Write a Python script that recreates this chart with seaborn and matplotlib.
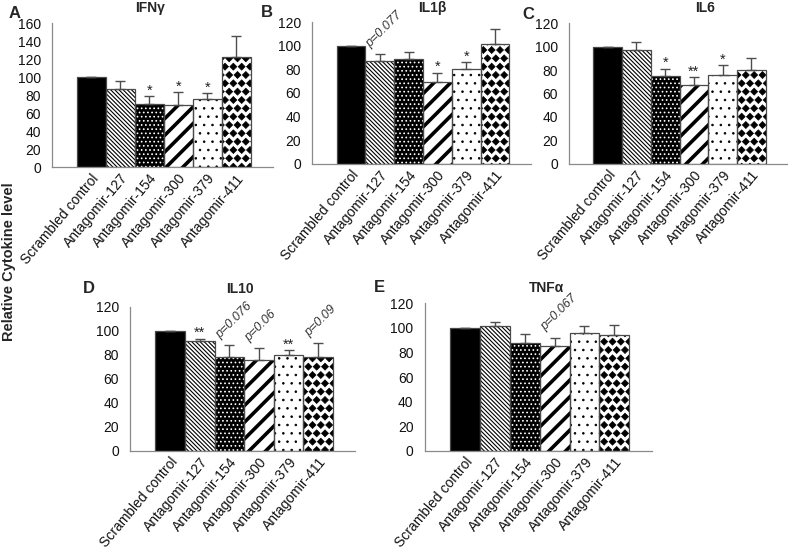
import numpy as np
import pandas as pd
import matplotlib
matplotlib.use("Agg")
import matplotlib.pyplot as plt
import seaborn as sns
from matplotlib import hatch as mhatch
from matplotlib.path import Path
from matplotlib.patches import Rectangle

# ---------------- data ----------------
categories = ["Scrambled control", "Antagomir-127", "Antagomir-154",
              "Antagomir-300", "Antagomir-379", "Antagomir-411"]

ifng_mean = [100, 87, 70, 69, 76, 122]
ifng_err = [0, 9, 9, 14, 6, 24]
ifng_marks = ["", "", "*", "*", "*", ""]

il1b_mean = [100, 87, 89, 69, 80, 101]
il1b_err = [0, 6, 6, 8, 6, 13]
il1b_marks = ["", "p=0.077", "", "*", "*", ""]

il6_mean = [100, 97, 75, 67, 76, 80]
il6_err = [0, 7, 6, 7, 8, 10]
il6_marks = ["", "", "*", "**", "*", ""]

il10_mean = [100, 92, 78, 76, 80, 78]
il10_err = [0, 1.5, 10, 10, 4, 12]
il10_marks = ["", "**", "p=0.076", "p=0.06", "**", "p=0.09"]

tnfa_mean = [100, 101, 88, 85, 96, 94]
tnfa_err = [0, 4, 7, 7, 5, 8]
tnfa_marks = ["", "", "", "p=0.067", "", ""]

panel_titles = ["IFNγ", "IL1β", "IL6", "IL10", "TNFα"]
panel_letters = ["A", "B", "C", "D", "E"]
y_max = [160, 120, 120, 120, 120]
y_label = "Relative Cytokine level"


# ---------------- custom diamond hatch (replaces 'O') ----------------
class Diamonds(mhatch.Shapes):
    filled = True
    size = 0.42

    def __init__(self, hatch, density):
        self.num_rows = hatch.count("O") * density
        path = Path.unit_regular_polygon(4)
        self.shape_vertices = path.vertices
        self.shape_codes = path.codes
        super().__init__(hatch, density)


mhatch._hatch_types = [Diamonds if t is mhatch.LargeCircles else t
                       for t in mhatch._hatch_types]

# styles per category: (facecolor, hatch, hatchcolor, hatch linewidth)
bar_styles = [
    ("black", None, "black", 1.0),
    ("white", "\\" * 8, "black", 0.8),
    ("black", "....", "white", 0.7),
    ("white", "//", "black", 2.6),
    ("white", "..", "black", 0.6),
    ("white", "OO", "black", 0.5),
]

sns.set_style("white")
plt.rcParams["font.family"] = ["Liberation Sans", "DejaVu Sans"]
plt.rcParams["hatch.linewidth"] = 1.0

fig = plt.figure(figsize=(7.88, 5.5), dpi=100)

axes_rects = [
    [0.066, 0.696, 0.280, 0.262],
    [0.396, 0.702, 0.278, 0.258],
    [0.722, 0.702, 0.277, 0.256],
    [0.165, 0.180, 0.286, 0.262],
    [0.539, 0.180, 0.288, 0.269],
]
title_pos = [(0.190, 0.985), (0.549, 0.985), (0.895, 0.985),
             (0.305, 0.474), (0.694, 0.477)]
letter_pos = [(0.018, 0.975), (0.339, 0.977), (0.670, 0.973),
              (0.113, 0.476), (0.482, 0.478)]

means = [ifng_mean, il1b_mean, il6_mean, il10_mean, tnfa_mean]
errs = [ifng_err, il1b_err, il6_err, il10_err, tnfa_err]
marks = [ifng_marks, il1b_marks, il6_marks, il10_marks, tnfa_marks]

axis_grey = "#8a8a8a"

for k in range(5):
    ax = fig.add_axes(axes_rects[k])
    df = pd.DataFrame({"cat": categories, "val": means[k]})
    sns.barplot(data=df, x="cat", y="val", ax=ax, errorbar=None,
                width=1.0, color="black", saturation=1)
    for p, (fc, h, hc, hlw) in zip(ax.patches, bar_styles):
        p.set_facecolor(fc)
        p.set_edgecolor(hc)
        p.set_linewidth(0)
        if h:
            p.set_hatch(h)
            if hasattr(p, "set_hatch_linewidth"):
                p.set_hatch_linewidth(hlw)
        ax.add_patch(Rectangle(p.get_xy(), p.get_width(), p.get_height(),
                               fill=False, ec="#4a4a4a", lw=0.9, zorder=3))
    x = np.arange(len(categories))
    ax.errorbar(x, means[k], yerr=[np.zeros(len(x)), errs[k]], fmt="none",
                ecolor="#4d4d4d", elinewidth=1.0, capsize=3.5, capthick=1.0,
                zorder=4)
    for i, m in enumerate(marks[k]):
        if not m:
            continue
        top = means[k][i] + errs[k][i]
        if m.startswith("p"):
            ax.annotate(m, (i - 0.25, top), xytext=(0, 3),
                        textcoords="offset points", rotation=45,
                        rotation_mode="anchor", ha="left", va="bottom",
                        fontsize=9, style="italic", color="#333333")
        else:
            ax.annotate(m, (i, top), xytext=(0, -1),
                        textcoords="offset points", ha="center",
                        va="bottom", fontsize=10.5, color="#222222")
    ax.set_xlim(-1.35, 6.25)
    ax.set_ylim(0, y_max[k])
    ax.set_yticks(np.arange(0, y_max[k] + 1, 20))
    ax.set_xlabel("")
    ax.set_ylabel("")
    ax.set_xticks(x)
    ax.set_xticklabels(categories, rotation=50, ha="right",
                       rotation_mode="anchor", fontsize=10, color="#111111")
    ax.tick_params(axis="x", length=0, pad=3)
    ax.tick_params(axis="y", length=4, width=0.8, color=axis_grey,
                   labelsize=10, labelcolor="#111111", pad=4)
    for s in ["top", "right"]:
        ax.spines[s].set_visible(False)
    for s in ["left", "bottom"]:
        ax.spines[s].set_color(axis_grey)
        ax.spines[s].set_linewidth(0.9)
    fig.text(*title_pos[k], panel_titles[k], ha="center", va="center",
             fontsize=10, fontweight="bold")
    fig.text(*letter_pos[k], panel_letters[k], ha="center", va="center",
             fontsize=12, fontweight="bold")

fig.text(0.012, 0.524, y_label, rotation=90, ha="center", va="center",
         fontsize=10.5, fontweight="bold")

fig.savefig("out.png", dpi=100)
